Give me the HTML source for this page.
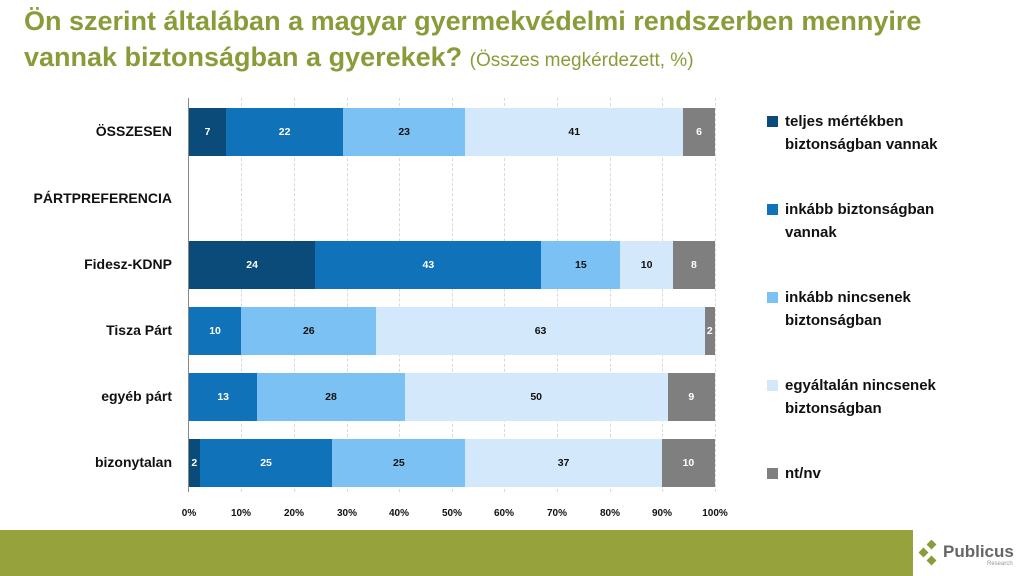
<!DOCTYPE html>
<html><head><meta charset="utf-8"><style>
*{margin:0;padding:0;box-sizing:border-box}
body{width:1024px;height:576px;position:relative;background:#fff;font-family:"Liberation Sans",sans-serif;overflow:hidden}
.t{position:absolute;left:24px;top:3px;color:#8a9c3a;font-weight:bold;font-size:27px;line-height:36px}
.t span{font-weight:normal;font-size:19px}
.grid{position:absolute;top:98px;height:394px;border-left:1px dashed #d9d9d9}
.axis{position:absolute;left:188px;top:98px;height:394px;border-left:1px solid #888}
.row{position:absolute;left:189px;width:526px;height:48px;display:flex}
.row div{height:100%;display:flex;align-items:center;justify-content:center;font-size:10.5px;font-weight:bold;color:#fff}
.a{background:#0b4b7a}.b{background:#1072b8}.c{background:#7cc1f3;color:#111!important}.d{background:#d3e8fb;color:#111!important}.e{background:#7f7f7f}
.lab{position:absolute;right:852px;font-size:14px;font-weight:bold;color:#111;text-align:right;white-space:nowrap}
.x{position:absolute;top:508px;font-size:10px;font-weight:bold;color:#111;width:40px;text-align:center}
.lg{position:absolute;left:785px;font-size:15px;font-weight:bold;color:#111;line-height:23px}
.lg i{position:absolute;left:-18px;top:6px;width:11px;height:11px}
.foot{position:absolute;left:0;top:530px;width:913px;height:46px;background:#96a33d}
</style></head><body>
<div class="t">Ön szerint általában a magyar gyermekvédelmi rendszerben mennyire<br>vannak biztonságban a gyerekek? <span>(Összes megkérdezett, %)</span></div>
<div class="grid" style="left:241px"></div><div class="grid" style="left:294px"></div><div class="grid" style="left:347px"></div><div class="grid" style="left:399px"></div><div class="grid" style="left:452px"></div><div class="grid" style="left:504px"></div><div class="grid" style="left:557px"></div><div class="grid" style="left:610px"></div><div class="grid" style="left:662px"></div><div class="grid" style="left:715px"></div>
<div class="axis"></div>
<div class="row" style="top:108px"><div class="a" style="flex:7">7</div><div class="b" style="flex:22">22</div><div class="c" style="flex:23">23</div><div class="d" style="flex:41">41</div><div class="e" style="flex:6">6</div></div>
<div class="row" style="top:241px"><div class="a" style="flex:24">24</div><div class="b" style="flex:43">43</div><div class="c" style="flex:15">15</div><div class="d" style="flex:10">10</div><div class="e" style="flex:8">8</div></div>
<div class="row" style="top:307px"><div class="b" style="flex:10">10</div><div class="c" style="flex:26">26</div><div class="d" style="flex:63">63</div><div class="e" style="flex:2">2</div></div>
<div class="row" style="top:373px"><div class="b" style="flex:13">13</div><div class="c" style="flex:28">28</div><div class="d" style="flex:50">50</div><div class="e" style="flex:9">9</div></div>
<div class="row" style="top:439px"><div class="a" style="flex:2">2</div><div class="b" style="flex:25">25</div><div class="c" style="flex:25">25</div><div class="d" style="flex:37">37</div><div class="e" style="flex:10">10</div></div>
<div class="lab" style="top:123px">ÖSSZESEN</div>
<div class="lab" style="top:190px">PÁRTPREFERENCIA</div>
<div class="lab" style="top:256px">Fidesz-KDNP</div>
<div class="lab" style="top:322px">Tisza Párt</div>
<div class="lab" style="top:388px">egyéb párt</div>
<div class="lab" style="top:454px">bizonytalan</div>
<div class="x" style="left:169px">0%</div><div class="x" style="left:221px">10%</div><div class="x" style="left:274px">20%</div><div class="x" style="left:327px">30%</div><div class="x" style="left:379px">40%</div><div class="x" style="left:432px">50%</div><div class="x" style="left:484px">60%</div><div class="x" style="left:537px">70%</div><div class="x" style="left:590px">80%</div><div class="x" style="left:642px">90%</div><div class="x" style="left:695px">100%</div>
<div class="lg" style="top:110px"><i class="a"></i>teljes mértékben<br>biztonságban vannak</div>
<div class="lg" style="top:198px"><i class="b"></i>inkább biztonságban<br>vannak</div>
<div class="lg" style="top:286px"><i class="c"></i>inkább nincsenek<br>biztonságban</div>
<div class="lg" style="top:374px"><i class="d"></i>egyáltalán nincsenek<br>biztonságban</div>
<div class="lg" style="top:462px"><i class="e"></i>nt/nv</div>
<div class="foot"></div>
<svg style="position:absolute;left:918px;top:540px" width="26" height="28"><g fill="#8a9c3a"><rect x="10" y="1" width="7" height="7" transform="rotate(45 13.5 4.5)"/><rect x="2" y="9" width="7" height="7" transform="rotate(45 5.5 12.5)"/><rect x="10" y="17" width="7" height="7" transform="rotate(45 13.5 20.5)"/></g></svg>
<div style="position:absolute;left:943px;top:542px;font-size:17px;font-weight:bold;color:#666">Publicus</div>
<div style="position:absolute;left:987px;top:561px;font-size:6px;color:#999">Research</div>
</body></html>
